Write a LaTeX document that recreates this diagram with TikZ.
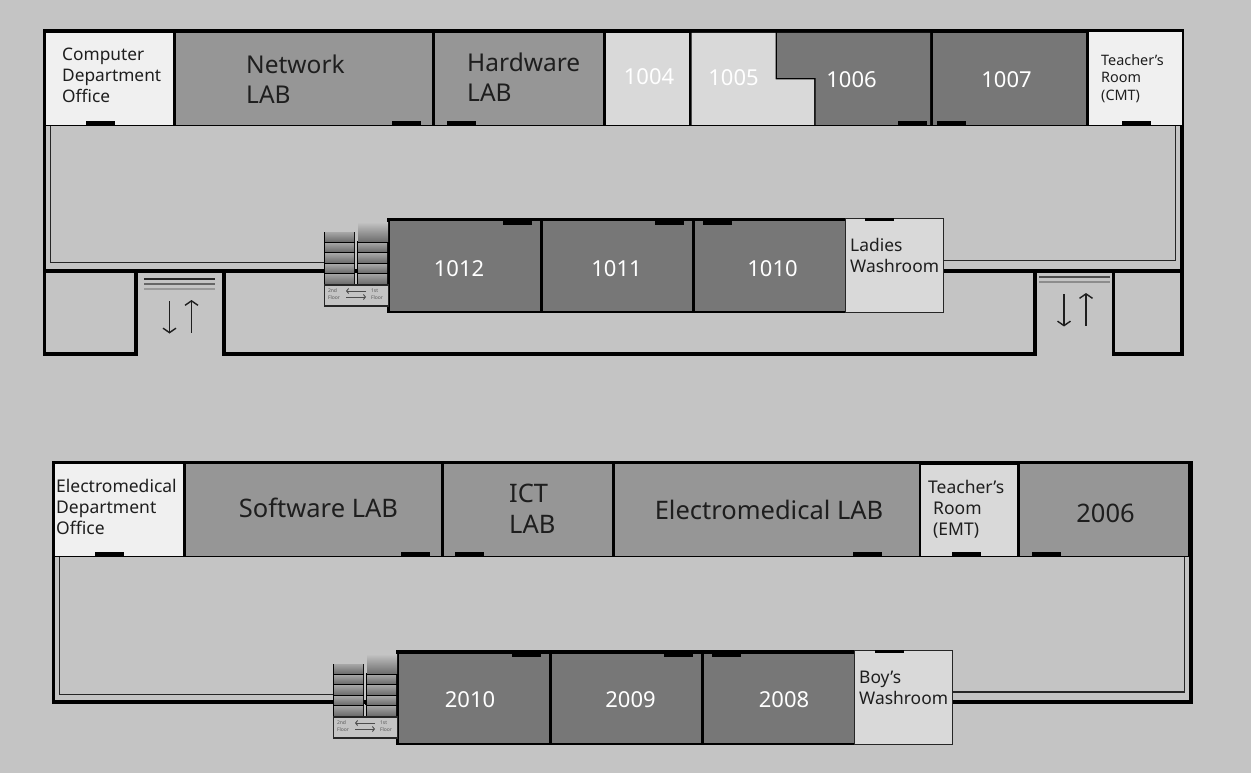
\documentclass[tikz,border=0pt]{standalone}
\usepackage{fontspec}
\setmainfont{Noto Sans}
\usetikzlibrary{arrows.meta}
\definecolor{bgc}{HTML}{C4C4C4}
\definecolor{roomlight}{HTML}{F0F0F0}
\definecolor{roommid}{HTML}{D9D9D9}
\definecolor{roomgray}{HTML}{969696}
\definecolor{roomdark}{HTML}{777777}
\definecolor{ink}{HTML}{1E1E1E}
\definecolor{stairtop}{HTML}{A4A4A4}
\definecolor{stairbot}{HTML}{707070}
\tikzset{
  wall/.style={line width=3.5pt,black,line cap=rect},
  thinwall/.style={line width=1.4pt,black!85},
  door/.style={fill=black,draw=none},
  lbl/.style={inner sep=0pt,align=left,text=ink,font=\fontsize{#1}{\dimexpr#1pt*121/100\relax}\selectfont},
  wlbl/.style={inner sep=0pt,align=center,text=white,font=\fontsize{#1}{\dimexpr#1pt*119/100\relax}\selectfont},
  tinytext/.style={inner sep=0pt,align=left,text=black!65,font=\fontsize{5}{7}\selectfont},
  bigarrow/.style={line width=1.4pt,-{Straight Barb[length=4.5pt,width=13pt]},ink},
  smallarrow/.style={line width=.9pt,-{Straight Barb[length=2pt,width=5pt]},black!70},
}
\newcommand{\roomrect}[5]{\fill[#5] (#1,#2) rectangle (#3,#4);}
\newcommand{\doorrect}[3]{\fill[door] (#1,#2) rectangle ++(29,#3);}
\newcommand{\stairblock}[1]{%
  \fill[black] (356,269) rectangle (358,272.5);
  \fill[black] (323.5,232) rectangle (355,285);
  \foreach \ya/\yb in {232.5/241,243/251,253.5/262,264.5/272,274/283}{
    \shade[top color=stairtop,bottom color=stairbot] (325,\ya) rectangle (354,\yb);
  }
  \fill[black] (357,241) rectangle (388,285);
  \shade[top color=bgc,bottom color=stairbot] (358,222) rectangle (388,241);
  \foreach \ya/\yb in {243/251,253.5/262,264.5/272,274/283}{
    \shade[top color=stairtop,bottom color=stairbot] (358,\ya) rectangle (387,\yb);
  }
  \fill[black!85] (323.5,284) rectangle (389,306.5);
  \fill[bgc] (325,285.5) rectangle (388,305);
  \node[tinytext] (#1a) at (334,294) {2nd\\Floor};
  \node[tinytext] (#1b) at (377,294) {1st\\Floor};
  \coordinate (#1p) at (366,291); \coordinate (#1q) at (346,291);
  \coordinate (#1r) at (346,297); \coordinate (#1s) at (366,297);
  \draw[smallarrow] (#1p) -- (#1q);
  \draw[smallarrow] (#1r) -- (#1s);
}
\begin{document}
\begin{tikzpicture}[x=1pt,y=-1pt]
\path[use as bounding box,fill=bgc] (0,0) rectangle (1251,773);

%% ---------- FIRST FLOOR ----------
\draw[thinwall] (50.5,126) -- (50.5,262.5) -- (326,262.5);
\draw[thinwall] (1175.5,126) -- (1175.5,260.5) -- (943,260.5);
\draw[wall] (44.5,126) -- (44.5,354) -- (136,354) -- (136,271);
\draw[wall] (44.5,271) -- (357,271);
\draw[wall] (224,271) -- (224,354) -- (1035,354) -- (1035,271);
\draw[wall] (943,271) -- (1182,271);
\draw[wall] (1182,126) -- (1182,354) -- (1113.5,354) -- (1113.5,271);
\fill[black] (42.5,29.5) rectangle (1183.5,126.5);
\roomrect{46}{33}{173}{125}{roomlight}
\roomrect{176}{33}{432}{125}{roomgray}
\roomrect{434.5}{33}{603}{125}{roomgray}
\roomrect{606}{33}{689}{125}{roommid}
\roomrect{932.5}{33}{1086}{125}{roomdark}
\roomrect{1088.5}{32}{1182}{125}{roomlight}
\fill[black] (691,33) rectangle (930,125);
\fill[roommid] (691.5,33) -- (775.5,33) -- (775.5,79.5) -- (814,79.5) -- (814,125) -- (691.5,125) -- cycle;
\fill[roomdark] (777,33) -- (930,33) -- (930,125) -- (815.5,125) -- (815.5,78) -- (777,78) -- cycle;
\doorrect{86}{121}{4}\doorrect{392}{121}{4}\doorrect{447}{121}{4}
\doorrect{898}{121}{4}\doorrect{937}{121}{4}\doorrect{1122}{121}{4}
\fill[black] (387,218) rectangle (847,313);
\roomrect{389.5}{221}{540}{311}{roomdark}
\roomrect{542.5}{221}{692}{311}{roomdark}
\roomrect{694.5}{221}{845}{311}{roomdark}
\doorrect{503}{219.5}{5}\doorrect{655}{219.5}{5}\doorrect{703}{219.5}{5}
\fill[black!85] (845,218) rectangle (944,313);
\roomrect{846}{219}{943}{312}{roommid}
\doorrect{865}{218}{2.5}
\stairblock{fa}
\draw[line width=1.2pt,black!85] (144,279) -- (215,279);
\draw[line width=1.2pt,black!60] (144,284) -- (215,284);
\draw[line width=1.2pt,black!40] (144,289) -- (215,289);
\coordinate (la1) at (169.5,301); \coordinate (la2) at (169.5,333.5);
\coordinate (la3) at (191.5,332.5); \coordinate (la4) at (191.5,300);
\draw[bigarrow] (la1) -- (la2);
\draw[bigarrow] (la3) -- (la4);
\draw[line width=1.2pt,black!70] (1039,277) -- (1110,277);
\draw[line width=1.2pt,black!45] (1039,282) -- (1110,282);
\coordinate (lb1) at (1064,294); \coordinate (lb2) at (1064,326.5);
\coordinate (lb3) at (1086,325.5); \coordinate (lb4) at (1086,293);
\draw[bigarrow] (lb1) -- (lb2);
\draw[bigarrow] (lb3) -- (lb4);
\node[lbl=17.3,anchor=west] (t1) at (62,75) {Computer\\Department\\Office};
\node[lbl=24.5,anchor=west] (t2) at (246,79) {Network\\LAB};
\node[lbl=24.5,anchor=west] (t3) at (467,77.5) {Hardware\\LAB};
\node[wlbl=22] (t4) at (649,77) {1004};
\node[wlbl=22] (t5) at (733.5,78) {1005};
\node[wlbl=22] (t6) at (851.5,80) {1006};
\node[wlbl=22] (t7) at (1006.5,80) {1007};
\node[lbl=14.4,anchor=west] (t8) at (1101,78.5) {Teacher’s\\Room\\(CMT)};
\node[wlbl=22] (t9) at (459,268.5) {1012};
\node[wlbl=22] (t10) at (616.5,268.5) {1011};
\node[wlbl=22] (t11) at (772.5,268.5) {1010};
\node[lbl=17.4,anchor=west] (t12) at (850,255.5) {Ladies\\Washroom};

%% ---------- SECOND FLOOR ----------
\draw[thinwall] (59.5,557) -- (59.5,694.5) -- (335,694.5);
\draw[thinwall] (1184.5,557) -- (1184.5,692) -- (952,692);
\draw[wall] (53.5,557) -- (53.5,702) -- (366,702);
\draw[wall] (952,702) -- (1191,702) -- (1191,557);
\fill[black] (51.5,460.5) rectangle (1192.5,557);
\roomrect{55}{464}{183}{555.5}{roomlight}
\roomrect{185.5}{464}{441}{555.5}{roomgray}
\roomrect{443.5}{464}{612}{555.5}{roomgray}
\roomrect{614.5}{464}{919}{555.5}{roomgray}
\roomrect{921}{465}{1017}{555.5}{roommid}
\roomrect{1019.5}{463.5}{1188}{555.5}{roomgray}
\doorrect{95}{552}{4}\doorrect{401}{552}{4}\doorrect{455}{552}{4}
\doorrect{853}{552}{4}\doorrect{952}{552}{4}\doorrect{1032}{552}{4}
\fill[black] (396,650) rectangle (856,745);
\roomrect{398.5}{653.5}{549}{743}{roomdark}
\roomrect{551.5}{653.5}{701}{743}{roomdark}
\roomrect{703.5}{653.5}{854}{743}{roomdark}
\doorrect{512}{651.5}{5}\doorrect{664}{651.5}{5}\doorrect{712}{651.5}{5}
\fill[black!85] (854,649.5) rectangle (953,744.5);
\roomrect{855}{650.5}{952}{743.5}{roommid}
\doorrect{875}{650}{2.5}
\begin{scope}[shift={(9,432)}]
\stairblock{fb}
\end{scope}
\node[lbl=17.5,anchor=west] (s1) at (56,507) {Electromedical\\Department\\Office};
\node[lbl=25.5] (s2) at (318.5,507.5) {Software LAB};
\node[lbl=25.5,anchor=west] (s3) at (509,508.5) {ICT\\LAB};
\node[lbl=25.5] (s4) at (769,510) {Electromedical LAB};
\node[lbl=17.5,anchor=west] (s5) at (928,509) {Teacher’s\\\hspace*{5pt}Room\\\hspace*{5pt}(EMT)};
\node[lbl=25.5] (s6) at (1105.5,513) {2006};
\node[wlbl=22] (s7) at (470,700) {2010};
\node[wlbl=22] (s8) at (630.5,700) {2009};
\node[wlbl=22] (s9) at (784,700) {2008};
\node[lbl=17.4,anchor=west] (s10) at (859,687.5) {Boy’s\\Washroom};
\end{tikzpicture}
\end{document}
